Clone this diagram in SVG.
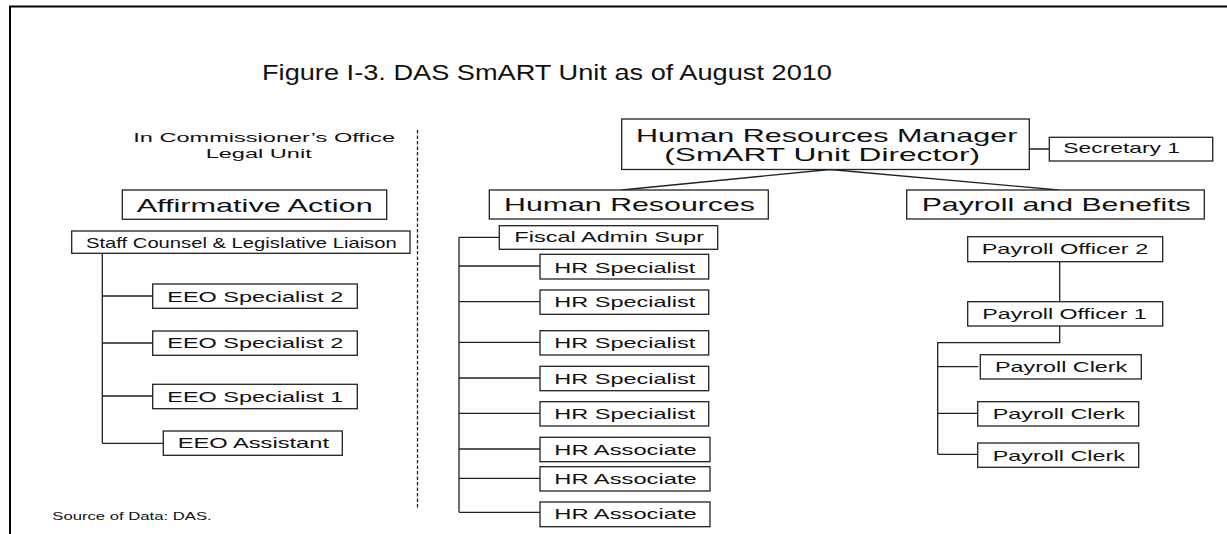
<svg xmlns="http://www.w3.org/2000/svg" width="1227" height="534" viewBox="0 0 1227 534">
<style>
text{font-family:"Liberation Sans",Arial,sans-serif;fill:#111}
.box{fill:#fff;stroke:#222;stroke-width:1.3}
.c{fill:none;stroke:#222;stroke-width:1.3}
.t{font-size:21.5px}
.l{font-size:18.5px}
.s{font-size:15px}
.h{font-size:13.5px}
.f{font-size:11.5px}
</style>
<rect width="1227" height="534" fill="#fff"/>
<path d="M10,534 V6.5 H1227" fill="none" stroke="#000" stroke-width="2"/>
<text class="t" x="262" y="80" textLength="570" lengthAdjust="spacingAndGlyphs">Figure I-3. DAS SmART Unit as of August 2010</text>
<text class="h" x="133.3" y="142.3" textLength="261.7" lengthAdjust="spacingAndGlyphs">In Commissioner’s Office</text>
<text class="h" x="205.7" y="158.3" textLength="106" lengthAdjust="spacingAndGlyphs">Legal Unit</text>
<line x1="417.5" y1="130" x2="417.5" y2="508" stroke="#222" stroke-width="1.3" stroke-dasharray="3.5,2"/>
<text class="f" x="52.3" y="520" textLength="159.4" lengthAdjust="spacingAndGlyphs">Source of Data: DAS.</text>
<g id="connectors">
<path class="c" d="M102.3,253.3 V443.3 M102.3,296 H152.7 M102.3,343 H152.7 M102.3,396 H152.7 M102.3,443.3 H163.3"/>
<path class="c" d="M830,169.5 L621.7,190 M830,169.5 L1058.3,190 M1029.3,149 H1049.3"/>
<path class="c" d="M459,237.3 V512.3 M459,237.3 H499.3 M459,266 H540 M459,301.7 H540 M459,342.3 H540 M459,378 H540 M459,413.3 H540 M459,449 H540 M459,478.3 H540 M459,512.3 H540"/>
<path class="c" d="M1059.7,261.7 V301.7 M1059.7,326 V342.7 H937.7 V454.3 M937.7,366.7 H978.3 M937.7,413.3 H977.7 M937.7,454.3 H977.7"/>
</g>
<g id="affirmative-action"><rect class="box" x="122.3" y="190" width="264.4" height="29.3"/><text class="l" x="136.7" y="211.7" textLength="236" lengthAdjust="spacingAndGlyphs">Affirmative Action</text></g>
<g id="staff-counsel"><rect class="box" x="71.7" y="231" width="338.3" height="22.3"/><text class="s" x="86" y="247.7" textLength="310.7" lengthAdjust="spacingAndGlyphs">Staff Counsel &amp; Legislative Liaison</text></g>
<g id="eeo-spec-2a"><rect class="box" x="152.7" y="284" width="204.6" height="24.3"/><text class="s" x="167.3" y="301.7" textLength="176" lengthAdjust="spacingAndGlyphs">EEO Specialist 2</text></g>
<g id="eeo-spec-2b"><rect class="box" x="152.7" y="331" width="204.6" height="24.3"/><text class="s" x="167.3" y="348.3" textLength="176" lengthAdjust="spacingAndGlyphs">EEO Specialist 2</text></g>
<g id="eeo-spec-1"><rect class="box" x="152.7" y="384.3" width="204.6" height="24.4"/><text class="s" x="167.3" y="401.7" textLength="176" lengthAdjust="spacingAndGlyphs">EEO Specialist 1</text></g>
<g id="eeo-assistant"><rect class="box" x="163.3" y="431" width="179" height="24.3"/><text class="s" x="177.7" y="448.3" textLength="151.3" lengthAdjust="spacingAndGlyphs">EEO Assistant</text></g>
<g id="hr-manager"><rect class="box" x="621.7" y="119" width="407.6" height="50.5"/><text class="l" x="636" y="141.7" textLength="381.3" lengthAdjust="spacingAndGlyphs">Human Resources Manager</text><text class="l" x="664.3" y="161" textLength="315.7" lengthAdjust="spacingAndGlyphs">(SmART Unit Director)</text></g>
<g id="secretary-1"><rect class="box" x="1049.3" y="137.3" width="163.4" height="23.7"/><text class="s" x="1063.3" y="153.3" textLength="116.7" lengthAdjust="spacingAndGlyphs">Secretary 1</text></g>
<g id="human-resources"><rect class="box" x="489.3" y="190" width="279" height="29"/><text class="l" x="504" y="211" textLength="251" lengthAdjust="spacingAndGlyphs">Human Resources</text></g>
<g id="payroll-benefits"><rect class="box" x="906.7" y="190" width="297.6" height="29"/><text class="l" x="921.7" y="211" textLength="269" lengthAdjust="spacingAndGlyphs">Payroll and Benefits</text></g>
<g id="fiscal-admin"><rect class="box" x="499.3" y="225.7" width="218.4" height="23.6"/><text class="s" x="514.3" y="242.3" textLength="189.7" lengthAdjust="spacingAndGlyphs">Fiscal Admin Supr</text></g>
<g id="hr-spec-1"><rect class="box" x="540" y="254.3" width="168.7" height="24.7"/><text class="s" x="554.3" y="272.7" textLength="141" lengthAdjust="spacingAndGlyphs">HR Specialist</text></g>
<g id="hr-spec-2"><rect class="box" x="540" y="290" width="168.7" height="24.3"/><text class="s" x="554.3" y="307.3" textLength="141" lengthAdjust="spacingAndGlyphs">HR Specialist</text></g>
<g id="hr-spec-3"><rect class="box" x="540" y="330.7" width="168.7" height="24.3"/><text class="s" x="554.3" y="348.3" textLength="141" lengthAdjust="spacingAndGlyphs">HR Specialist</text></g>
<g id="hr-spec-4"><rect class="box" x="540" y="366.3" width="168.7" height="24.4"/><text class="s" x="554.3" y="384" textLength="141" lengthAdjust="spacingAndGlyphs">HR Specialist</text></g>
<g id="hr-spec-5"><rect class="box" x="540" y="401.7" width="168.7" height="24.3"/><text class="s" x="554.3" y="419.3" textLength="141" lengthAdjust="spacingAndGlyphs">HR Specialist</text></g>
<g id="hr-assoc-1"><rect class="box" x="540" y="437.3" width="170" height="24.4"/><text class="s" x="554.3" y="455" textLength="142.4" lengthAdjust="spacingAndGlyphs">HR Associate</text></g>
<g id="hr-assoc-2"><rect class="box" x="540" y="466.7" width="170" height="24.3"/><text class="s" x="554.3" y="484" textLength="142.4" lengthAdjust="spacingAndGlyphs">HR Associate</text></g>
<g id="hr-assoc-3"><rect class="box" x="540" y="502" width="170" height="24.7"/><text class="s" x="554.3" y="519.3" textLength="142.4" lengthAdjust="spacingAndGlyphs">HR Associate</text></g>
<g id="payroll-officer-2"><rect class="box" x="967.7" y="236.7" width="195" height="25"/><text class="s" x="981.7" y="254" textLength="166.6" lengthAdjust="spacingAndGlyphs">Payroll Officer 2</text></g>
<g id="payroll-officer-1"><rect class="box" x="967.7" y="301.7" width="195" height="24.3"/><text class="s" x="982.3" y="319.3" textLength="164.4" lengthAdjust="spacingAndGlyphs">Payroll Officer 1</text></g>
<g id="payroll-clerk-1"><rect class="box" x="980.3" y="354.7" width="161" height="24.3"/><text class="s" x="995" y="372.3" textLength="132.3" lengthAdjust="spacingAndGlyphs">Payroll Clerk</text></g>
<g id="payroll-clerk-2"><rect class="box" x="977.7" y="401.7" width="161" height="24.3"/><text class="s" x="992.7" y="419.3" textLength="132.3" lengthAdjust="spacingAndGlyphs">Payroll Clerk</text></g>
<g id="payroll-clerk-3"><rect class="box" x="977.7" y="443" width="161" height="24.3"/><text class="s" x="992.7" y="460.7" textLength="132.3" lengthAdjust="spacingAndGlyphs">Payroll Clerk</text></g>
</svg>
